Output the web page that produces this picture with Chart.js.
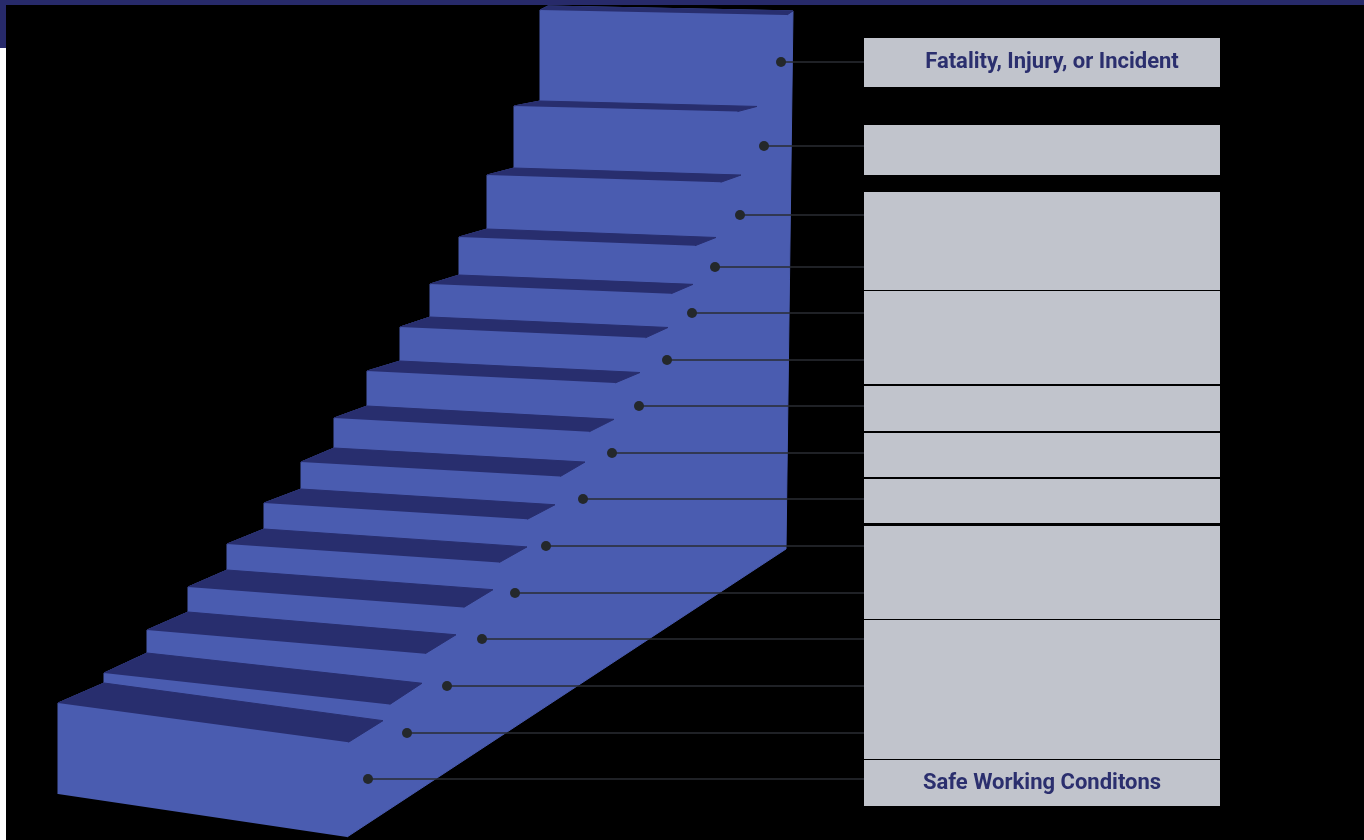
<!DOCTYPE html>
<html>
<head>
<meta charset="utf-8">
<title>Safety staircase</title>
<script src="https://cdn.jsdelivr.net/npm/chart.js@4.4.1/dist/chart.umd.min.js"></script>
<style>
  html, body { margin: 0; padding: 0; background: #000; overflow: hidden; }
  #wrap { position: relative; width: 1364px; height: 840px; }
  #topBar { position: absolute; left: 0; top: 0; width: 1364px; height: 5px; background: #272a6a; z-index: 2; }
  #sideBar { position: absolute; left: 0; top: 0; width: 6px; height: 48px; background: #272a6a; z-index: 2; }
  #sideLine { position: absolute; left: 0; top: 48px; width: 6px; height: 792px; background: #fff; z-index: 2; }
  canvas { position: absolute; left: 0; top: 0; }
</style>
</head>
<body>
<div id="wrap">
  <div id="topBar"></div>
  <div id="sideBar"></div>
  <div id="sideLine"></div>
  <canvas id="stairChart" width="1364" height="840"></canvas>
</div>
<script>
// steps, bottom to top
const riserLeft  = [58, 104, 147, 188, 227, 264, 301, 334, 367, 400, 430, 459, 487, 514, 540];
const riserTop   = [703, 673, 630, 587, 544, 503, 462, 418, 371, 327, 284, 237, 175, 106, 10];
const treadBack  = [683, 653, 612, 570, 529, 489, 448, 406, 361, 317, 275, 229, 168, 101, 6];
const treadTip   = [383, 422, 456, 493, 527, 555, 585, 614, 640, 668, 693, 716, 741, 757, 793];
const treadSlope = [0.135, 0.11, 0.085, 0.074, 0.068, 0.062, 0.056, 0.054, 0.048, 0.044, 0.04, 0.037, 0.031, 0.025, 0.02];

// markers on the side of the stairs, bottom to top
const dotX = [368, 407, 447, 482, 515, 546, 583, 612, 639, 667, 692, 715, 740, 764, 781];
const dotY = [779, 733, 686, 639, 593, 546, 499, 453, 406, 360, 313, 267, 215, 146, 62];

// label boxes, top to bottom
const boxTop    = [38, 125, 192, 291, 386, 433, 479, 526, 620, 760];
const boxBottom = [87, 175, 290, 384, 431, 477, 523, 619, 759, 806];
const boxLabels = ['Fatality, Injury, or Incident', '', '', '', '', '', '', '', '', 'Safe Working Conditons'];

const BOX_LEFT = 864, BOX_RIGHT = 1220;
const BASE_Y = 794;                 // bottom of front face, left
const FRONT_CORNER = {x: 347, y: 837};
const WALL_BOTTOM = {x: 786, y: 549};

const RISER = '#4a5cb0';
const TREAD = '#282e6e';
const BOX = '#c1c4cc';

function nextLeft(k) {
    return k < riserLeft.length - 1 ? riserLeft[k + 1] : riserLeft[k] + 8;
}

function treadPoints(k) {
    const x = riserLeft[k];
    const xn = nextLeft(k);
    const shift = (xn - x) * 0.75;
    const s = treadSlope[k];
    const tip = treadTip[k];
    return [
        {x: x, y: riserTop[k]},
        {x: xn, y: treadBack[k]},
        {x: tip, y: treadBack[k] + s * (tip - xn)},
        {x: tip - shift, y: riserTop[k] + s * (tip - shift - x)}
    ];
}

// outline of the whole staircase
const outline = [{x: riserLeft[0], y: BASE_Y}];
riserLeft.forEach((x, k) => {
    outline.push({x: x, y: riserTop[k]});
    outline.push({x: nextLeft(k), y: treadBack[k]});
});
const topTread = treadPoints(riserLeft.length - 1);
outline.push(topTread[2], WALL_BOTTOM, FRONT_CORNER);

const shape = (pts, color, order, border) => ({
    type: 'line',
    data: pts,
    fill: 'shape',
    backgroundColor: color,
    borderColor: border || color,
    borderWidth: 1,
    pointRadius: 0,
    tension: 0,
    order: order
});

const datasets = [];
datasets.push(shape(outline, RISER, 50));
riserLeft.forEach((x, k) => datasets.push(shape(treadPoints(k), TREAD, 40)));
boxTop.forEach((t, i) => datasets.push(shape([
    {x: BOX_LEFT, y: t}, {x: BOX_RIGHT, y: t},
    {x: BOX_RIGHT, y: boxBottom[i]}, {x: BOX_LEFT, y: boxBottom[i]}
], BOX, 40, 'rgba(0,0,0,0)')));
dotX.forEach((x, i) => datasets.push({
    type: 'line',
    data: [{x: x, y: dotY[i]}, {x: BOX_LEFT, y: dotY[i]}],
    borderColor: '#2a2c33',
    borderWidth: 1.5,
    pointRadius: 0,
    fill: false,
    order: 20
}));
datasets.push({
    type: 'line',
    data: dotX.map((x, i) => ({x: x, y: dotY[i]})),
    showLine: false,
    pointRadius: 5,
    pointBackgroundColor: '#24282b',
    pointBorderWidth: 0,
    order: 0
});

const boxText = {
    id: 'boxText',
    afterDatasetsDraw(chart) {
        const {ctx, scales: {x, y}} = chart;
        ctx.save();
        ctx.font = 'bold 22px Roboto';
        ctx.fillStyle = '#2b2f6e';
        ctx.textAlign = 'center';
        ctx.textBaseline = 'middle';
        boxLabels.forEach((label, i) => {
            if (!label) return;
            const cx = x.getPixelForValue((BOX_LEFT + BOX_RIGHT) / 2 + (i === 0 ? 10 : 0));
            const cy = y.getPixelForValue((boxTop[i] + boxBottom[i]) / 2);
            ctx.fillText(label, cx, cy);
        });
        ctx.restore();
    }
};

const ctx = document.getElementById('stairChart').getContext('2d');
new Chart(ctx, {
    type: 'line',
    data: { datasets: datasets },
    options: {
        responsive: false,
        animation: false,
        events: [],
        layout: { padding: 0, autoPadding: false },
        scales: {
            x: { type: 'linear', min: 0, max: 1364, display: false },
            y: { type: 'linear', min: 0, max: 840, reverse: true, display: false }
        },
        plugins: {
            legend: { display: false },
            tooltip: { enabled: false }
        }
    },
    plugins: [boxText]
});
</script>
</body>
</html>
